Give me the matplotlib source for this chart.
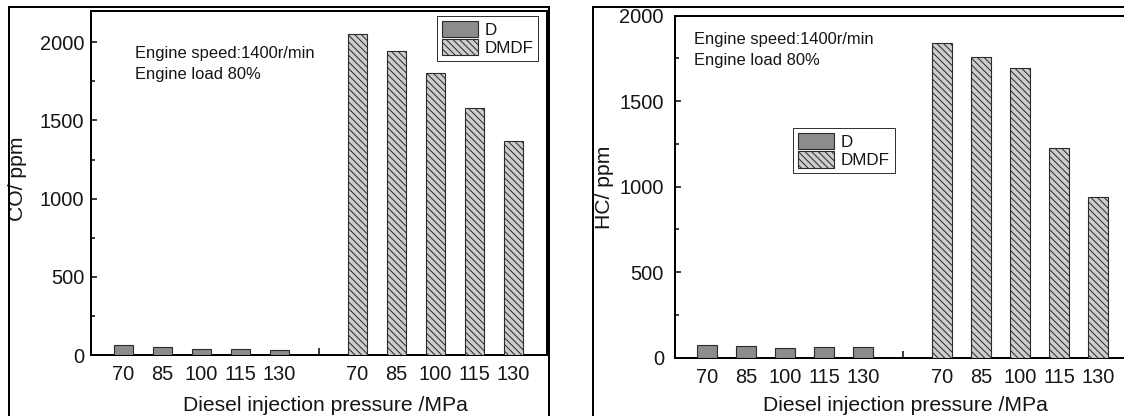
import numpy as np
import matplotlib
matplotlib.use('Agg')
import matplotlib.pyplot as plt
from matplotlib.patches import Rectangle
from matplotlib.ticker import MultipleLocator, FixedLocator

plt.rcParams['font.family'] = ['Liberation Sans', 'DejaVu Sans']
plt.rcParams['hatch.linewidth'] = 0.9

# ---------------- data ----------------
pressures = ['70', '85', '100', '115', '130']
fuel_modes = ['D', 'DMDF']
co_d = [68, 55, 42, 40, 36]
co_dmdf = [2050, 1940, 1800, 1580, 1368]
hc_d = [77, 70, 57, 65, 62]
hc_dmdf = [1842, 1757, 1693, 1223, 939]
annotation_lines = ['Engine speed:1400r/min', 'Engine load 80%']
x_label = 'Diesel injection pressure /MPa'
y_labels = ['CO/ ppm', 'HC/ ppm']

# ---------------- figure ----------------
W, H, DPI = 1124, 416, 80
fig = plt.figure(figsize=(W / DPI, H / DPI), dpi=DPI)
fig.patch.set_facecolor('white')


def fx(px):
    return px / W


def fy(py):
    return 1 - py / H


TXT = '#151515'
n = len(pressures)
pos_d = np.arange(1, n + 1)
pos_dmdf = pos_d + n + 1
gap = n + 1


def panel(box, xlim, ylim, d_vals, dmdf_vals, ylabel, ylab_xy, xlab_xy,
          ypad, leg_loc, leg_xy, text_xy):
    l, t, r, b = box
    ax = fig.add_axes([fx(l), fy(b), fx(r) - fx(l), fy(t) - fy(b)])
    ax.bar(pos_d, d_vals, width=0.51, color='#8c8c8c', edgecolor='#2b2b2b',
           linewidth=1.0, label=fuel_modes[0], zorder=3)
    ax.bar(pos_dmdf, dmdf_vals, width=0.51, color='#cdcdcd', edgecolor='#2b2b2b',
           linewidth=1.0, hatch='\\\\\\\\', label=fuel_modes[1], zorder=3)
    ax.set_xlim(*xlim)
    ax.set_ylim(*ylim)
    ax.set_xticks(np.concatenate([pos_d, pos_dmdf]))
    ax.set_xticklabels(pressures + pressures)
    ax.xaxis.set_minor_locator(FixedLocator([gap]))
    ax.set_yticks(np.arange(0, 2001, 500))
    ax.yaxis.set_minor_locator(MultipleLocator(250))
    ax.tick_params(axis='x', which='major', length=0, pad=9, labelsize=18,
                   labelcolor=TXT)
    ax.tick_params(axis='x', which='minor', length=6.3, width=1.35,
                   direction='in', color='black')
    ax.tick_params(axis='y', which='major', length=5.4, width=1.35,
                   direction='in', pad=ypad, labelsize=18, labelcolor=TXT)
    ax.tick_params(axis='y', which='minor', length=3.6, width=1.35,
                   direction='in')
    for s in ax.spines.values():
        s.set_linewidth(1.8)
        s.set_color('black')
    ax.set_ylabel(ylabel, fontsize=19, color=TXT, va='center')
    ax.yaxis.set_label_coords(fx(ylab_xy[0]), fy(ylab_xy[1]),
                              transform=fig.transFigure)
    ax.set_xlabel(x_label, fontsize=19, color=TXT, va='center')
    ax.xaxis.set_label_coords(fx(xlab_xy[0]), fy(xlab_xy[1]),
                              transform=fig.transFigure)
    leg = ax.legend(loc=leg_loc, bbox_to_anchor=(fx(leg_xy[0]), fy(leg_xy[1])),
                    bbox_transform=fig.transFigure, borderaxespad=0,
                    fancybox=False, framealpha=1, edgecolor='#333333',
                    handlelength=2.16, handleheight=1.1, labelspacing=0.08,
                    handletextpad=0.37, borderpad=0.28, fontsize=15.3)
    leg.get_frame().set_linewidth(0.9)
    for txt in leg.get_texts():
        txt.set_color(TXT)
    for i, line in enumerate(annotation_lines):
        fig.text(fx(text_xy[0]), fy(text_xy[1] + i * 20.7), line, fontsize=14.8,
                 color=TXT, ha='left', va='center')
    return ax


# left panel (CO)
panel(box=(90.7, 10.7, 546.7, 355.3), xlim=(0.16, 11.85), ylim=(0, 2200),
      d_vals=co_d, dmdf_vals=co_dmdf, ylabel=y_labels[0],
      ylab_xy=(17.9, 179), xlab_xy=(325, 405.3), ypad=5.8,
      leg_loc='upper right', leg_xy=(538.3, 16), text_xy=(135, 53.3))

# right panel (HC)
panel(box=(675, 15.5, 1130, 357.7), xlim=(0.19, 11.81), ylim=(0, 2000),
      d_vals=hc_d, dmdf_vals=hc_dmdf, ylabel=y_labels[1],
      ylab_xy=(605, 187), xlab_xy=(905.7, 405.3), ypad=10,
      leg_loc='upper left', leg_xy=(793, 128.3), text_xy=(693.8, 39.3))

# outer frames around each panel
for (x0, y0, x1, y1) in [(8.7, 6.7, 548.5, 440), (593.3, 6.7, 1150, 440)]:
    fig.add_artist(Rectangle((fx(x0), fy(y1)), fx(x1) - fx(x0), fy(y0) - fy(y1),
                             transform=fig.transFigure, fill=False,
                             linewidth=1.8, edgecolor='black', clip_on=False))

fig.savefig('out.png', dpi=DPI)
